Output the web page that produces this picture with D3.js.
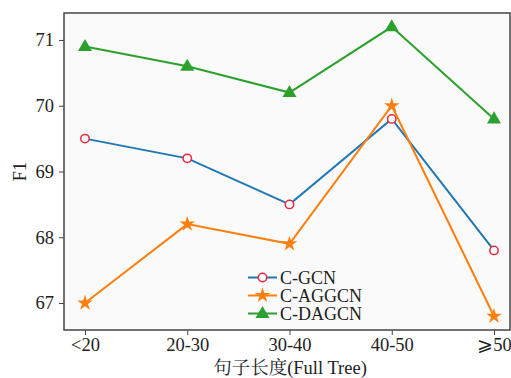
<!DOCTYPE html>
<html>
<head>
<meta charset="utf-8">
<script src="https://cdn.jsdelivr.net/npm/d3@7"></script>
</head>
<body style="margin:0; background:#fff">
<script>
// data
var categories = ["<20", "20-30", "30-40", "40-50", "\u2a7e50"];
var seriesNames = ["C-GCN", "C-AGGCN", "C-DAGCN"];
var gcn = [69.5, 69.2, 68.5, 69.8, 67.8];
var aggcn = [67.0, 68.2, 67.9, 70.0, 66.8];
var dagcn = [70.9, 70.6, 70.2, 71.2, 69.8];
var yTicks = [67, 68, 69, 70, 71];

var font = "'Liberation Serif', 'Noto Serif CJK SC', serif";
var fs = 18.5;

var margin = { top: 13, right: 1, bottom: 48, left: 64 },
    width = 511 - margin.left - margin.right,
    height = 378 - margin.top - margin.bottom;

var svg = d3.select("body").append("svg")
    .attr("width", 511)
    .attr("height", 378);

var g = svg.append("g")
    .attr("transform", "translate(" + margin.left + "," + margin.top + ")");

// x: point scale with the outer padding matplotlib leaves
var x = d3.scalePoint()
    .domain(categories)
    .range([21, width - 16]);

var y = d3.scaleLinear()
    .domain([66.59, 71.41])
    .range([height, 0]);

g.append("rect")
    .attr("width", width)
    .attr("height", height)
    .attr("fill", "#fafafa");

// axes
var xAxis = g.append("g")
    .attr("transform", "translate(0," + height + ")")
    .call(d3.axisBottom(x).tickSize(5).tickPadding(3));
var yAxis = g.append("g")
    .call(d3.axisLeft(y).tickValues(yTicks).tickSize(5).tickPadding(5).tickFormat(d3.format("d")));

[xAxis, yAxis].forEach(function(a) {
    a.select(".domain").remove();
    a.selectAll("line").attr("stroke", "#444").attr("stroke-width", 1);
    a.selectAll("text").attr("font-size", fs).attr("fill", "#222")
        .style("font-family", font);
});

// frame
g.append("rect")
    .attr("width", width)
    .attr("height", height)
    .attr("fill", "none")
    .attr("stroke", "#444")
    .attr("stroke-width", 1.5);

// axis titles
svg.append("text")
    .attr("x", 290)
    .attr("y", 373.5)
    .attr("text-anchor", "middle")
    .attr("font-size", fs)
    .attr("fill", "#222")
    .style("font-family", font)
    .text("句子长度(Full Tree)");

svg.append("text")
    .attr("transform", "translate(26," + (margin.top + y(69)) + ") rotate(-90)")
    .attr("text-anchor", "middle")
    .attr("font-size", fs)
    .attr("fill", "#222")
    .style("font-family", font)
    .text("F1");

var series = [
    { name: seriesNames[0], values: gcn, color: "#1f77b4", marker: "circle" },
    { name: seriesNames[1], values: aggcn, color: "#ff7f0e", marker: "star" },
    { name: seriesNames[2], values: dagcn, color: "#2ca02c", marker: "triangle" }
];

var line = d3.line()
    .x(function(d, i) { return x(categories[i]); })
    .y(function(d) { return y(d); });

function drawMarker(sel, s) {
    if (s.marker === "circle") {
        sel.append("circle").attr("r", 4.2)
            .attr("fill", "#fff").attr("stroke", "#e8283c").attr("stroke-width", 1.5);
    } else if (s.marker === "star") {
        sel.append("path").attr("d", d3.symbol().type(d3.symbolStar).size(75))
            .attr("fill", s.color);
    } else {
        sel.append("path").attr("d", d3.symbol().type(d3.symbolTriangle).size(85))
            .attr("transform", "translate(0,0.5)")
            .attr("fill", s.color);
    }
}

series.forEach(function(s) {
    g.append("path")
        .datum(s.values)
        .attr("fill", "none")
        .attr("stroke", s.color)
        .attr("stroke-width", 2)
        .attr("d", line);
    s.values.forEach(function(v, i) {
        var m = g.append("g")
            .attr("transform", "translate(" + x(categories[i]) + "," + y(v) + ")");
        drawMarker(m, s);
    });
});

// legend
var legend = svg.append("g").attr("transform", "translate(248,277.5)");
series.forEach(function(s, i) {
    var row = legend.append("g").attr("transform", "translate(0," + (i * 18) + ")");
    row.append("line").attr("x1", 0).attr("x2", 29)
        .attr("stroke", s.color).attr("stroke-width", 2);
    var m = row.append("g").attr("transform", "translate(14.5,0)");
    drawMarker(m, s);
    row.append("text")
        .attr("x", 32)
        .attr("y", 6)
        .attr("font-size", 18)
        .attr("fill", "#222")
        .style("font-family", font)
        .text(s.name);
});
</script>
</body>
</html>
